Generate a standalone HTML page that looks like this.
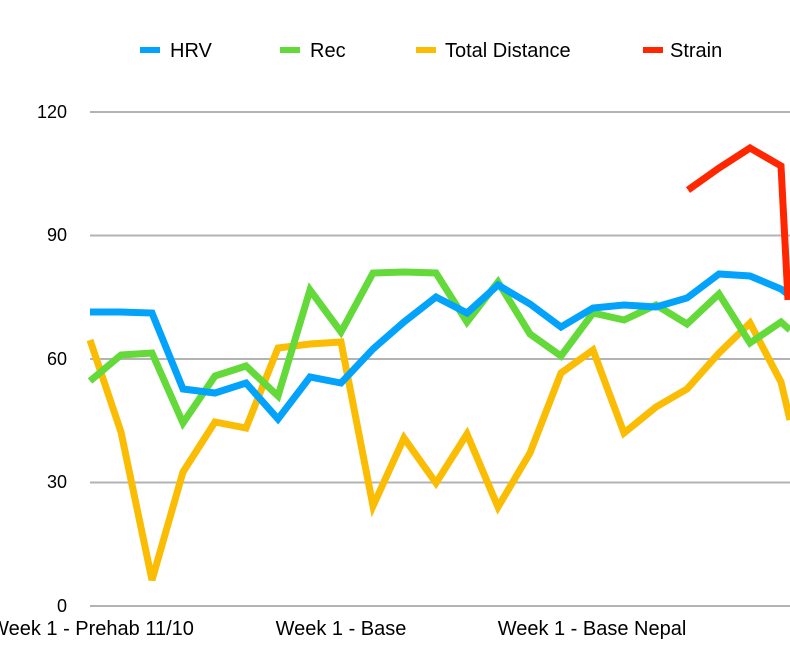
<!DOCTYPE html>
<html><head><meta charset="utf-8"><style>body{margin:0;background:#fff}svg{display:block;font-family:"Liberation Sans",sans-serif}</style></head><body>
<svg width="790" height="660" viewBox="0 0 790 660">
<g stroke="#b3b3b3" stroke-width="2"><line x1="90" y1="112" x2="790" y2="112"/><line x1="90" y1="235.5" x2="790" y2="235.5"/><line x1="90" y1="359" x2="790" y2="359"/><line x1="90" y1="482.5" x2="790" y2="482.5"/><line x1="90" y1="606" x2="790" y2="606"/></g>
<g font-size="18" fill="#000" text-anchor="end"><text x="67" y="118">120</text><text x="67" y="241">90</text><text x="67" y="365">60</text><text x="67" y="488">30</text><text x="67" y="612">0</text></g>
<g font-size="20" fill="#000" text-anchor="middle"><text x="92" y="635">Week 1 - Prehab 11/10</text><text x="341" y="635">Week 1 - Base</text><text x="592" y="635">Week 1 - Base Nepal</text></g>
<g fill="none" stroke-width="7" stroke-linejoin="miter">
<polyline stroke="#fbbc04" points="90,340 121,432 152,580 183,472 215,422 246,428 278,348 310,344 341,342 373,506 404,438 436,483 467,434 498,507 530,453 561,373 593,350 624,433 656,407 687,389 719,353 750,323 781,382 790,420"/>
<polyline stroke="#63d93a" points="90,381 121,355 152,353 183,423 215,376 246,366 278,396 310,290 341,332 373,273 404,272 436,273 467,322 498,282 530,334 561,356 593,313 624,320 656,305 687,324 719,294 750,343 781,322 790,330"/>
<polyline stroke="#03a2fb" points="90,312 121,312 152,313 183,389 215,393 246,383 278,419 310,377 341,383 373,349 404,322 436,297 467,313 498,285 530,304 561,327 593,308 624,305 656,307 687,298 719,274 750,276 781,289 790,296"/>
<polyline stroke="#ff2600" points="688,190 719,168 750,148 781,166 788,300"/>
</g>
<g stroke-width="6"><line x1="140" y1="50" x2="160" y2="50" stroke="#03a2fb"/><line x1="280" y1="50" x2="300" y2="50" stroke="#63d93a"/><line x1="416" y1="50" x2="436" y2="50" stroke="#fbbc04"/><line x1="643" y1="50" x2="663" y2="50" stroke="#ff2600"/></g>
<g font-size="20" fill="#000"><text x="170" y="57">HRV</text><text x="310" y="57">Rec</text><text x="445" y="57">Total Distance</text><text x="670" y="57">Strain</text></g>
</svg>
</body></html>
